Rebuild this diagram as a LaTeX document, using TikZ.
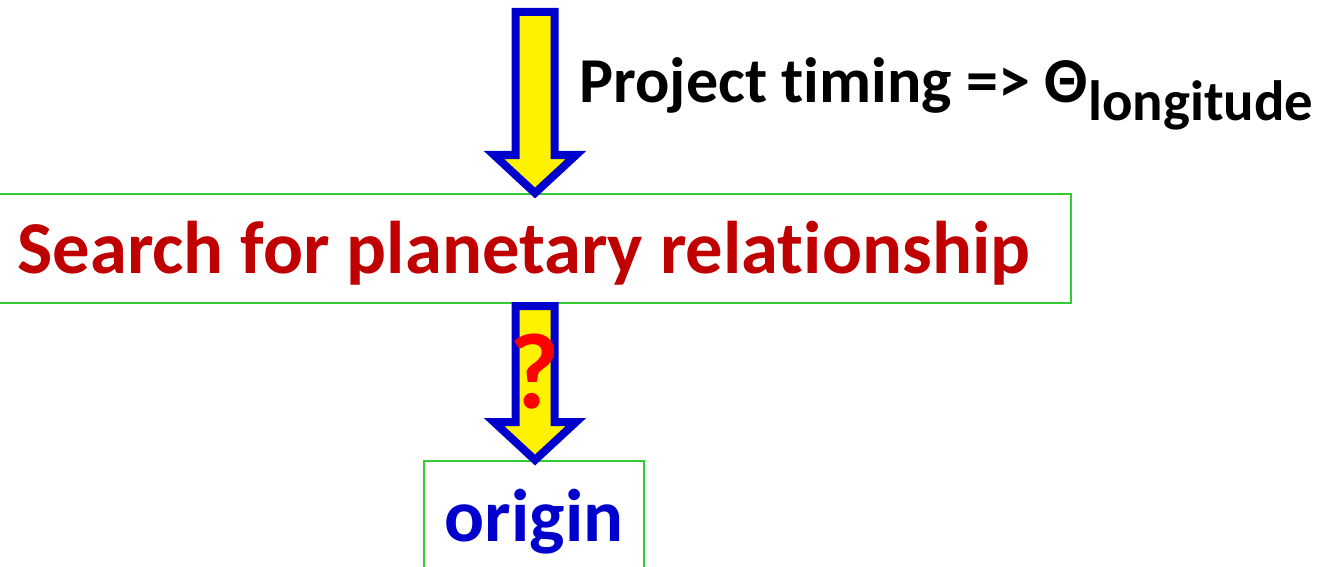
\documentclass[tikz,border=0pt]{standalone}
\usepackage{fontspec}
\setmainfont[Ligatures=NoCommon]{Carlito}
\usetikzlibrary{calc,positioning}
\definecolor{boxgreen}{HTML}{33CC33}
\definecolor{titlered}{HTML}{C00000}
\definecolor{originblue}{HTML}{0000CC}
\definecolor{arrowblue}{HTML}{0000CC}

\tikzset{
  stagebox/.style={draw=boxgreen, line width=1pt, inner sep=0pt, font=\fontsize{37.3pt}{40pt}\selectfont\bfseries},
  blockarrow/.style={draw=arrowblue, fill=yellow, line width=4pt, line join=miter},
}
% block arrow from shaft start #1 down to tip (#1 |- #2)
\newcommand{\downblock}[2]{%
  \draw[blockarrow] ($(#1)+(-19.5,0)$) -- ($(#1 |- #2)+(-19.5,-38)$) -- ($(#1 |- #2)+(-41,-38)$)
    -- (#1 |- #2) -- ($(#1 |- #2)+(41,-38)$) -- ($(#1 |- #2)+(19.5,-38)$) -- ($(#1)+(19.5,0)$) -- cycle;}

\begin{document}
\begin{tikzpicture}[x=0.5pt, y=-0.5pt]
  \useasboundingbox (0,0) rectangle (1317,567);

  % boxes
  \node[stagebox, anchor=north, minimum width=538pt, text height=39.5pt, text depth=15pt, text=titlered]
    (search) at (533,193) {Search for planetary relationship\hspace*{9pt}};
  \node[stagebox, anchor=north, minimum width=110pt, text height=40pt, text depth=30pt, text=originblue]
    (origin) at (534,460) {origin};

  % arrows
  \coordinate (feed) at (535,12);
  \coordinate (outlet) at (535,306);
  \downblock{feed}{search.north}
  \downblock{outlet}{origin.north}

  % labels
  \node[anchor=base west, inner sep=0pt, font=\fontsize{32pt}{34pt}\selectfont\bfseries]
    (timing) at (579,103) {Project timing => Θ\raisebox{-9pt}{\fontsize{28.4pt}{30pt}\selectfont longitude}};
  \node[inner sep=0pt, font=\fontsize{54pt}{60pt}\selectfont\bfseries, text=red] (query) at (535,372) {?};
\end{tikzpicture}
\end{document}
